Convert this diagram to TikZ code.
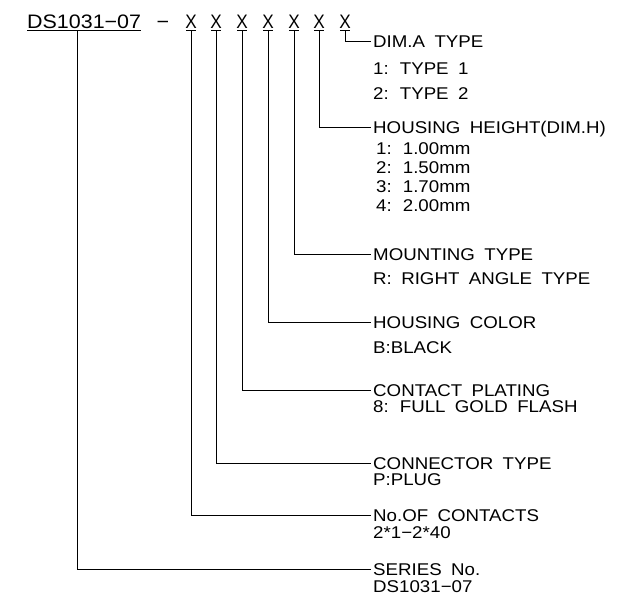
\documentclass[tikz,border=0pt]{standalone}
\usepackage{fontspec}
\setmainfont{Liberation Sans}[FakeStretch=1.1,WordSpace=1.8]
\begin{document}
\begin{tikzpicture}[x=1pt,y=-1pt,
  ln/.style={line width=1pt,black},
  hdr/.style={anchor=west,inner xsep=2pt,inner ysep=0pt,text height=12pt,text depth=0pt,font=\fontsize{17}{17}\selectfont},
  sub/.style={anchor=base west,inner sep=0pt,font=\fontsize{17}{17}\selectfont},
  ttl/.style={anchor=base west,inner sep=0pt,font=\fontsize{19.5}{20}\selectfont},
  xch/.style={anchor=base,inner sep=0pt,font=\fontsize{19.5}{20}\selectfont}]
\useasboundingbox (0,0) rectangle (619,604);
% title
\node[ttl] (title) at (27,29) {DS1031−07};
\draw[ln] ([yshift=-2pt]title.base west) -- ([yshift=-2pt]title.base east);
\node[xch] (dash) at (163,29) {−};
\foreach \i/\x in {1/191,2/216,3/242,4/268,5/294,6/319,7/345}{
  \node[xch] (X\i) at (\x,29) {\scalebox{0.8}[1]{X}};
  \draw[ln] (\x-5,31) -- (\x+5,31);
  \coordinate (c\i) at (\x,31);
}
\coordinate (cds) at (77,31);
% headers
\node[hdr] (dima) at (371,42) {DIM.A TYPE};
\node[hdr] (hh) at (371,128) {HOUSING HEIGHT(DIM.H)};
\node[hdr] (mt) at (371,255) {MOUNTING TYPE};
\node[hdr] (hc) at (371,323) {HOUSING COLOR};
\node[hdr] (cp) at (371,390) {CONTACT PLATING};
\node[hdr] (ct) at (371,463) {CONNECTOR TYPE};
\node[hdr] (nc) at (371,515) {No.OF CONTACTS};
\node[hdr] (sn) at (371,569) {SERIES No.};
% sub lines
\node[sub] (d1) at (373,75) {1: TYPE 1};
\node[sub] (d2) at (373,100) {2: TYPE 2};
\node[sub] (h1) at (376,155) {1: 1.00mm};
\node[sub] (h2) at (376,174) {2: 1.50mm};
\node[sub] (h3) at (376,193) {3: 1.70mm};
\node[sub] (h4) at (376,212) {4: 2.00mm};
\node[sub] (m1) at (373,285) {R: RIGHT ANGLE TYPE};
\node[sub] (k1) at (373,353) {B:BLACK};
\node[sub] (p1) at (373,412) {8: FULL GOLD FLASH};
\node[sub] (t1) at (373,485) {P:PLUG};
\node[sub] (n1) at (373,538) {2*1−2*40};
\node[sub] (s1) at (373,592) {DS1031−07};
% connectors
\draw[ln] (c7) |- (dima.west);
\draw[ln] (c6) |- (hh.west);
\draw[ln] (c5) |- (mt.west);
\draw[ln] (c4) |- (hc.west);
\draw[ln] (c3) |- (cp.west);
\draw[ln] (c2) |- (ct.west);
\draw[ln] (c1) |- (nc.west);
\draw[ln] (cds) |- (sn.west);
\end{tikzpicture}
\end{document}
